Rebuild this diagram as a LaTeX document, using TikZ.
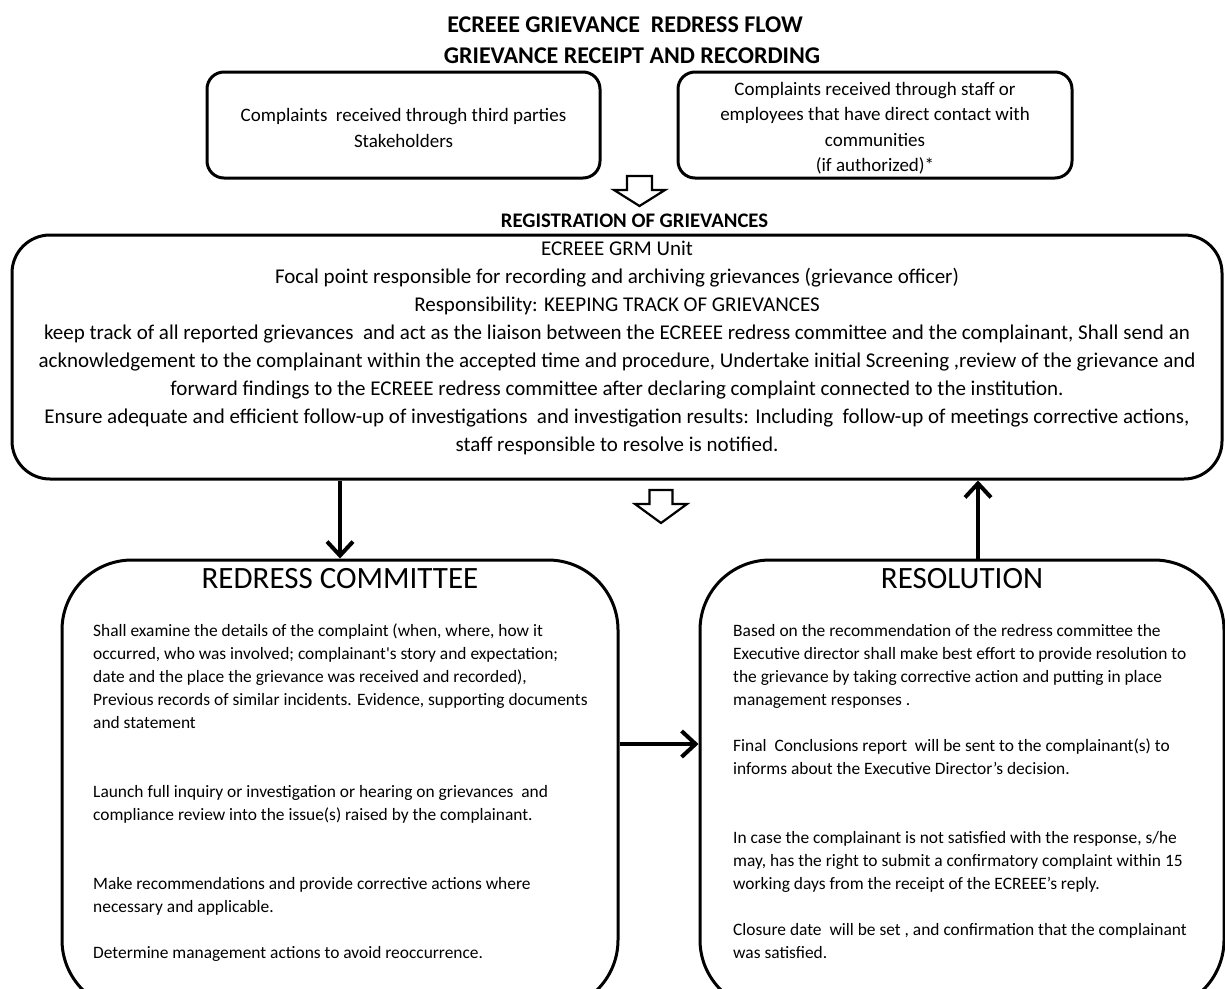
\documentclass[tikz,border=0pt]{standalone}
\usepackage{fontspec}
\setmainfont{Carlito}
\usetikzlibrary{arrows.meta}
\begin{document}
\begin{tikzpicture}[x=1pt,y=-1pt,
  box/.style={draw,line width=3pt,rounded corners=#1,inner sep=0pt},
  conn/.style={line width=4pt,-{Straight Barb[length=14pt,width=26pt]}},
  hollow/.style={draw,line width=2.2pt,line join=miter,fill=white},
  ttl/.style={font=\fontsize{24}{28}\selectfont\bfseries,inner sep=0pt},
  subttl/.style={font=\fontsize{20.7}{24}\selectfont\bfseries,inner sep=0pt},
  bigttl/.style={font=\fontsize{31}{36}\selectfont,inner sep=0pt},
  toptxt/.style={font=\fontsize{19}{25.5}\selectfont,align=center,inner sep=0pt},
  regtxt/.style={font=\fontsize{21}{28}\selectfont,align=center,inner sep=0pt},
  body/.style={font=\fontsize{17.4}{23}\selectfont,align=left,inner sep=0pt}
]
\useasboundingbox (0,0) rectangle (1225,988);
\clip (0,0) rectangle (1225,988);

% titles
\node[ttl] (title1) at (625,25) {ECREEE GRIEVANCE\ \ REDRESS FLOW};
\node[ttl] (title2) at (632,56) {GRIEVANCE RECEIPT AND RECORDING};

% source boxes
\node[box=17pt,minimum width=393pt,minimum height=106pt] (src1) at (403.5,125) {};
\node[toptxt] (src1txt) at (src1.center) [yshift=-3pt]
  {Complaints\ \ received through third parties\\Stakeholders};
\node[box=17pt,minimum width=394pt,minimum height=106pt] (src2) at (875,125) {};
\node[toptxt] (src2txt) at (src2.center) [yshift=-3pt]
  {Complaints received\ through staff or\\employees that have direct contact with\\communities\\(if authorized)*};

% hollow arrow 1
\coordinate (h1) at (639.5,176);
\draw[hollow] (h1) ++(-12.5,0) -- ++(25,0) -- ++(0,14) -- ++(13,0) -- ++(-25.5,16) -- ++(-25.5,-16) -- ++(13,0) -- cycle;

% registration
\node[subttl] (reg) at (634.5,221) {REGISTRATION OF GRIEVANCES};
\node[box=38pt,minimum width=1210pt,minimum height=244pt] (regbox) at (617,357) {};
\node[regtxt,anchor=north] (regbody) at (617,241) {\rule{0pt}{13.5pt}ECREEE GRM Unit\\
Focal point responsible for recording and archiving grievances (grievance officer)\\
Responsibility: KEEPING TRACK OF GRIEVANCES\\
keep track of all reported grievances\ \ and act as the liaison between the ECREEE redress committee and the complainant, Shall send an\\
acknowledgement to the complainant within the accepted time and procedure, Undertake\ initial Screening ,review of the grievance and\\
forward findings to the ECREEE redress committee after declaring complaint connected to the institution.\\
Ensure adequate and efficient follow-up of investigations\ \ and investigation results: Including\ \ follow-up of meetings corrective actions,\\
staff responsible to resolve is notified.};

% hollow arrow 2
\coordinate (h2) at (661,490);
\draw[hollow] (h2) ++(-11.5,0) -- ++(23,0) -- ++(0,14) -- ++(14.5,0) -- ++(-26,19) -- ++(-26,-19) -- ++(14.5,0) -- cycle;

% redress committee
\node[box=70pt,minimum width=556pt,minimum height=450pt] (rc) at (340,785) {};
\node[bigttl] (rctitle) at (340,579) {REDRESS COMMITTEE};
\node[body,anchor=north west] (rcbody) at (93,623) {\rule{0pt}{13pt}Shall examine the details of the complaint (when, where, how it\\
occurred, who was involved; complainant\textquotesingle s story and expectation;\\
date and the place the grievance was received and recorded),\\
Previous records of similar incidents. Evidence, supporting documents\\
and statement\\[46pt]
Launch full inquiry or investigation or hearing on grievances\ \ and\\
compliance review into the issue(s) raised by the complainant.\\[46pt]
Make recommendations and provide corrective actions\ where\\
necessary and applicable.\\[23pt]
Determine management actions to avoid reoccurrence.};

% resolution
\node[box=70pt,minimum width=524pt,minimum height=450pt] (res) at (962,785) {};
\node[bigttl] (restitle) at (962,579) {RESOLUTION};
\node[body,anchor=north west] (resbody) at (733,623) {\rule{0pt}{13pt}Based on the recommendation of the redress\ committee the\\
Executive director shall make best effort to provide resolution to\\
the grievance\ by taking corrective action\ and putting in place\\
management responses .\\[23pt]
Final\ \ Conclusions report\ \ will be sent to the complainant(s) to\\
informs about the Executive Director’s decision.\\[46pt]
In case the complainant is not satisfied with the response, s/he\\
may, has the right to submit a confirmatory complaint within 15\\
working days from the receipt of the ECREEE’s reply.\\[23pt]
Closure date\ \ will be set , and confirmation that the complainant\\
was satisfied.};

% connectors
\draw[conn] (rc.north |- regbox.south) -- (rc.north);
\draw[conn] ([xshift=16pt]res.north) -- ([xshift=16pt]res.north |- regbox.south);
\draw[conn] ([yshift=41pt]rc.east) -- ([yshift=41pt]rc.east -| res.west);
\end{tikzpicture}
\end{document}
